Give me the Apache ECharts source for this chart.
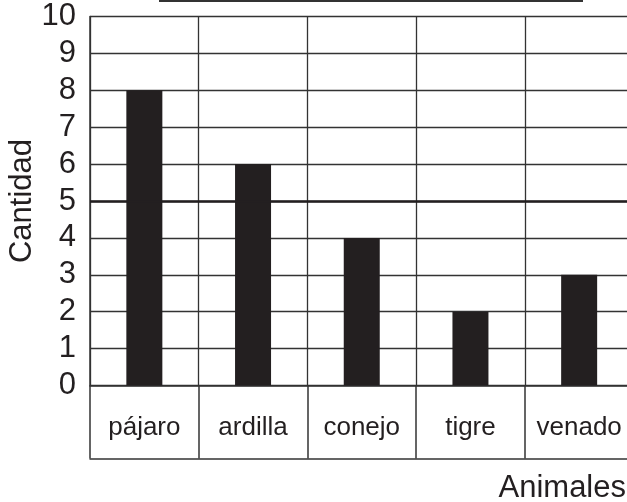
<!DOCTYPE html>
<html>
<head>
<meta charset="utf-8">
<script src="https://cdn.jsdelivr.net/npm/echarts@6/dist/echarts.min.js"></script>
<style>html,body{margin:0;padding:0;background:#fff;}#c{width:627px;height:502px;}</style>
</head>
<body>
<div id="c"></div>
<script>
const categories = ['pájaro', 'ardilla', 'conejo', 'tigre', 'venado'];
const values = [8, 6, 4, 2, 3];
const refValue = 5;
const yTicks = [0, 1, 2, 3, 4, 5, 6, 7, 8, 9, 10];
const yName = 'Cantidad';
const xName = 'Animales';

const FONT = '"Liberation Sans", Arial, sans-serif';
const INK = '#231f20';
const chart = echarts.init(document.getElementById('c'), null, {renderer: 'canvas'});
chart.setOption({
  animation: false,
  backgroundColor: '#fff',
  title: {
    text: xName, right: -4, top: 468,
    textStyle: {fontFamily: FONT, fontSize: 31, fontWeight: 'normal', color: INK}
  },
  grid: {left: 90, top: 16.5, right: -6.5, bottom: 116.5, containLabel: false, outerBoundsMode: 'none'},
  graphic: [{
    type: 'line', shape: {x1: 159, y1: 1, x2: 583, y2: 1},
    style: {stroke: '#333', lineWidth: 2}
  }],
  xAxis: [{
    type: 'category', data: categories, boundaryGap: true,
    axisLine: {show: true, lineStyle: {color: '#333', width: 1.5}},
    axisTick: {show: true, interval: 0, length: 73, lineStyle: {color: '#333', width: 1.5}},
    axisLabel: {interval: 0, margin: 29, fontFamily: FONT, fontSize: 26, color: INK},
    splitLine: {show: true, interval: 0, lineStyle: {color: '#333', width: 1.3}}
  }, {
    type: 'category', data: categories, position: 'bottom', offset: 73,
    axisLine: {show: true, lineStyle: {color: '#333', width: 1.5}},
    axisTick: {show: false}, axisLabel: {show: false}, splitLine: {show: false}
  }],
  yAxis: {
    type: 'value', min: yTicks[0], max: yTicks[yTicks.length - 1], interval: 1,
    name: yName, nameLocation: 'middle', nameGap: 52, nameRotate: 90, nameMoveOverlap: false,
    nameTextStyle: {fontFamily: FONT, fontSize: 31, color: INK},
    axisLine: {show: true, lineStyle: {color: '#333', width: 1.5}},
    axisTick: {show: false},
    axisLabel: {margin: 14, fontFamily: FONT, fontSize: 31, color: INK},
    splitLine: {show: true, lineStyle: {color: '#333', width: 1.3}}
  },
  series: [{
    type: 'bar', data: values, barWidth: 36, xAxisIndex: 0,
    itemStyle: {color: INK},
    markLine: {
      silent: true, symbol: ['none', 'none'],
      label: {show: false},
      lineStyle: {color: INK, width: 2.5, type: 'solid'},
      data: [{yAxis: refValue}]
    }
  }]
});
</script>
</body>
</html>
